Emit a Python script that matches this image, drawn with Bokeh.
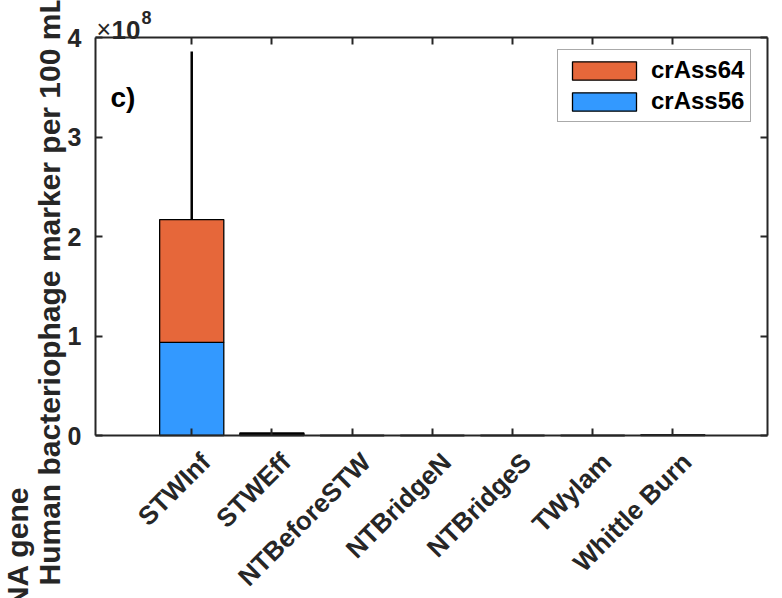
from math import pi
from bokeh.plotting import figure
from bokeh.models import (Range1d, FixedTicker, LinearAxis, Label, Legend,
                          LegendItem, ColumnDataSource)
from bokeh.core.properties import value
from bokeh.embed import file_html
from bokeh.resources import INLINE

# ---------------- data ----------------
categories = ["STWInf", "STWEff", "NTBeforeSTW", "NTBridgeN", "NTBridgeS",
              "TWylam", "Whittle Burn"]
crass56 = [0.935e8, 1.2e6, 0.0, 0.0, 0.0, 0.0, 3.0e5]
crass64 = [1.235e8, 1.3e6, 0.0, 0.0, 0.0, 0.0, 2.0e5]
err_upper = [1.69e8, 0.0, 0.0, 0.0, 0.0, 0.0, 0.0]
y_ticks = [0, 1e8, 2e8, 3e8, 4e8]
y_tick_labels = ["0", "1", "2", "3", "4"]
series_names = ["crAss56", "crAss64"]
series_colors = ["#3399FF", "#E6673A"]

# ---------------- layout (pixels on the canvas) ----------------
W, H = 782, 598
AX_L, AX_R, AX_T, AX_B = 95, 767, 37, 435      # axes box on the canvas
XMIN, XMAX = -0.2, 8.18                          # axes limits
YMIN, YMAX = 0.0, 4e8

FONT = "Liberation Sans"
AX = "#262626"

xpp = (XMAX - XMIN) / (AX_R - AX_L)
ypp = (YMAX - YMIN) / (AX_B - AX_T)
x_range = Range1d(XMIN - AX_L * xpp, XMAX + (W - AX_R) * xpp)
y_range = Range1d(YMIN - (H - AX_B) * ypp, YMAX + AX_T * ypp)

xs = list(range(1, len(categories) + 1))
total = [a + b for a, b in zip(crass56, crass64)]
src = ColumnDataSource(dict(x=xs, crAss56=crass56, crAss64=crass64,
                            total=total, label=categories,
                            err_top=[t + e for t, e in zip(total, err_upper)]))

p = figure(width=W, height=H, output_backend="svg", toolbar_location=None,
           x_range=x_range, y_range=y_range, min_border=0,
           min_border_left=0, min_border_right=0, min_border_top=0,
           min_border_bottom=0)
p.grid.visible = False
p.outline_line_color = None
p.background_fill_color = "white"
p.border_fill_color = "white"

bars = p.vbar_stack(series_names, x="x", width=0.8, source=src,
                    fill_color=series_colors, line_color="black",
                    line_width=1.3)
p.segment(x0="x", y0="total", x1="x", y1="err_top", source=src,
          line_color="black", line_width=2.5)


def style_axis(ax, loc, bounds):
    ax.fixed_location = loc
    ax.bounds = bounds
    ax.axis_line_color = AX
    ax.axis_line_width = 2
    ax.major_tick_line_color = AX
    ax.major_tick_line_width = 2
    ax.major_tick_in = 7
    ax.major_tick_out = 0
    ax.minor_tick_line_color = None
    ax.major_label_text_color = None
    ax.major_label_text_font_size = "0px"
    ax.major_label_standoff = 0


xa = p.xaxis[0]
xa.ticker = FixedTicker(ticks=xs)
style_axis(xa, YMIN, (XMIN, XMAX))
ya = p.yaxis[0]
ya.ticker = FixedTicker(ticks=y_ticks)
style_axis(ya, XMIN, (YMIN, YMAX))

top = LinearAxis(ticker=FixedTicker(ticks=xs))
style_axis(top, YMAX, (XMIN, XMAX))
p.add_layout(top, "above")
right = LinearAxis(ticker=FixedTicker(ticks=y_ticks))
style_axis(right, XMAX, (YMIN, YMAX))
p.add_layout(right, "right")

# tick labels
p.text(x="x", y=YMIN, text="label", source=src, angle=pi / 4,
       x_offset=14, y_offset=22, text_align="right", text_baseline="middle",
       text_font=value(FONT), text_font_style="bold", text_font_size="26px",
       text_color=AX)
ysrc = ColumnDataSource(dict(y=y_ticks, text=y_tick_labels))
p.text(x=XMIN, y="y", text="text", source=ysrc, x_offset=-14,
       text_align="right", text_baseline="middle",
       text_font=value(FONT), text_font_style="bold", text_font_size="25px",
       text_color=AX)

# legend
legend = Legend(items=[LegendItem(label="crAss64", renderers=[bars[1]]),
                       LegendItem(label="crAss56", renderers=[bars[0]])],
                location=(557, H - 122), padding=6, spacing=3,
                glyph_width=80, glyph_height=23, label_standoff=7,
                label_text_font=FONT, label_text_font_style="bold",
                label_text_font_size="24px", label_text_color="black",
                label_height=23,
                border_line_color="#555555", border_line_width=1,
                background_fill_color="white", background_fill_alpha=1)
p.add_layout(legend, "center")


def lab(x, y, text, size, bold=True, color=AX, **kw):
    p.add_layout(Label(x=x, y=H - y, x_units="screen", y_units="screen",
                       text=text, text_font=FONT,
                       text_font_style="bold" if bold else "normal",
                       text_font_size=size, text_color=color, **kw))


# panel tag
lab(110, 97, "c)", "28px", color="black", text_baseline="alphabetic")
# scale factor x10^8
lab(96, 28, "\u00d7", "25px", bold=False, text_baseline="alphabetic")
lab(111, 29, "10", "26px", text_baseline="alphabetic")
lab(141, 17, "8", "18px", text_baseline="alphabetic")
# y axis label (two lines; cut by the canvas edge as in the reference)
lab(17, 486, "Copies of crAssphage DNA gene", "30px", angle=pi / 2,
    text_align="right", text_baseline="alphabetic")
lab(49, 585, "Human bacteriophage marker per 100 mL", "30px", angle=pi / 2,
    text_align="left", text_baseline="alphabetic")

open("out.html", "w").write(file_html(p, INLINE))
